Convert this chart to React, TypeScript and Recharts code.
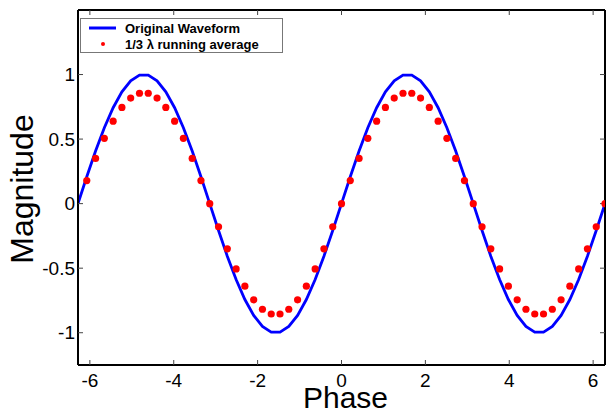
import {
  ComposedChart,
  Legend,
  Line,
  XAxis,
  YAxis,
} from 'recharts'

// Phase samples, step of pi/15 from -2pi to 2pi.
const phase = [
  -6.283, -6.074, -5.864, -5.655, -5.445, -5.236, -5.027, -4.817, -4.608, -4.398,
  -4.189, -3.979, -3.77, -3.56, -3.351, -3.142, -2.932, -2.723, -2.513, -2.304,
  -2.094, -1.885, -1.676, -1.466, -1.257, -1.047, -0.838, -0.628, -0.419, -0.209,
  0,
  0.209, 0.419, 0.628, 0.838, 1.047, 1.257, 1.466, 1.676, 1.885, 2.094,
  2.304, 2.513, 2.723, 2.932, 3.142, 3.351, 3.56, 3.77, 3.979, 4.189,
  4.398, 4.608, 4.817, 5.027, 5.236, 5.445, 5.655, 5.864, 6.074, 6.283,
]

// Original waveform (blue line).
const waveform = [
  0, 0.208, 0.407, 0.588, 0.743, 0.866, 0.951, 0.995, 0.995, 0.951,
  0.866, 0.743, 0.588, 0.407, 0.208, 0, -0.208, -0.407, -0.588, -0.743,
  -0.866, -0.951, -0.995, -0.995, -0.951, -0.866, -0.743, -0.588, -0.407, -0.208,
  0,
  0.208, 0.407, 0.588, 0.743, 0.866, 0.951, 0.995, 0.995, 0.951, 0.866,
  0.743, 0.588, 0.407, 0.208, 0, -0.208, -0.407, -0.588, -0.743, -0.866,
  -0.951, -0.995, -0.995, -0.951, -0.866, -0.743, -0.588, -0.407, -0.208, 0,
]

// 1/3 lambda running average (red dots), first sample missing.
const runningAverage: (number | null)[] = [
  null, 0.179, 0.35, 0.506, 0.639, 0.745, 0.818, 0.855, 0.855, 0.818,
  0.745, 0.639, 0.506, 0.35, 0.179, 0, -0.179, -0.35, -0.506, -0.639,
  -0.745, -0.818, -0.855, -0.855, -0.818, -0.745, -0.639, -0.506, -0.35, -0.179,
  0,
  0.179, 0.35, 0.506, 0.639, 0.745, 0.818, 0.855, 0.855, 0.818, 0.745,
  0.639, 0.506, 0.35, 0.179, 0, -0.179, -0.35, -0.506, -0.639, -0.745,
  -0.818, -0.855, -0.855, -0.818, -0.745, -0.639, -0.506, -0.35, -0.179, 0,
]

const xTicks = [-6, -4, -2, 0, 2, 4, 6]
const yTicks = [-1, -0.5, 0, 0.5, 1]
const xDomain = [-6.283, 6.283]
const yDomain = [-1.25, 1.5]

const data = phase.map((p, i) => ({ phase: p, wave: waveform[i], avg: runningAverage[i] }))

const BLUE = '#0000ff'
const RED = '#ff0000'
const FONT = '"Liberation Sans", Arial, sans-serif'
const axisLineStyle = { stroke: '#000', strokeWidth: 2 }
const tickLineStyle = { stroke: '#444', strokeWidth: 1 }
const tickText = { fontSize: 19, fill: '#000', fontFamily: FONT }

// Legend box with line and dot samples, line entry first.
function renderLegend(props: any) {
  const payload = (props.payload || [])
    .filter((entry: any) => entry.type !== 'none')
    .sort((a: any, b: any) => (a.type === 'line' ? -1 : b.type === 'line' ? 1 : 0))
  return (
    <div
      style={{
        width: 201,
        height: 32,
        border: '1px solid #777',
        background: '#fff',
        fontFamily: FONT,
        fontSize: 13,
        fontWeight: 'bold',
        color: '#000',
        paddingTop: 1,
        textAlign: 'left',
      }}
    >
      {payload.map((entry: any) => (
        <div
          key={entry.value}
          style={{ height: 16, display: 'flex', alignItems: 'center', whiteSpace: 'nowrap' }}
        >
          <svg width={44} height={16} style={{ flex: 'none' }}>
            {entry.type === 'line' ? (
              <line x1={8} x2={35} y1={8} y2={8} stroke={BLUE} strokeWidth={3} />
            ) : (
              <circle cx={22} cy={8} r={2} fill={RED} />
            )}
          </svg>
          <span>{entry.value}</span>
        </div>
      ))}
    </div>
  )
}

function YLabel(props: any) {
  const vb = props.viewBox || { x: 0, y: 10, width: 78, height: 355 }
  const x = vb.x + 33
  const y = vb.y + vb.height / 2 + 1.5
  return (
    <text
      x={x}
      y={y}
      transform={`rotate(-90, ${x}, ${y})`}
      textAnchor="middle"
      fontSize={32}
      fontFamily={FONT}
      fill="#000"
    >
      Magnitude
    </text>
  )
}

function XLabel(props: any) {
  const vb = props.viewBox || { x: 78, y: 365, width: 527, height: 48 }
  return (
    <text
      x={vb.x + vb.width / 2 + 4}
      y={vb.y + 43}
      textAnchor="middle"
      fontSize={30}
      fontFamily={FONT}
      fill="#000"
    >
      Phase
    </text>
  )
}

export default function App() {
  return (
    <div style={{ position: 'absolute', left: 0, top: 0, width: 613, height: 413, background: '#fff' }}>
      <ComposedChart width={613} height={413} data={data} margin={{ top: 9, right: 7, bottom: 0, left: 0 }}>
        <XAxis
          dataKey="phase"
          type="number"
          domain={xDomain}
          ticks={xTicks}
          allowDataOverflow
          height={48}
          axisLine={axisLineStyle}
          tickLine={tickLineStyle}
          tickSize={-5}
          tickMargin={14}
          tick={tickText}
          label={<XLabel />}
        />
        <XAxis
          xAxisId="top"
          orientation="top"
          dataKey="phase"
          type="number"
          domain={xDomain}
          ticks={xTicks}
          allowDataOverflow
          height={1}
          axisLine={axisLineStyle}
          tickLine={tickLineStyle}
          tickSize={-5}
          tickFormatter={() => ''}
        />
        <YAxis
          type="number"
          domain={yDomain}
          ticks={yTicks}
          allowDataOverflow
          width={78}
          axisLine={axisLineStyle}
          tickLine={tickLineStyle}
          tickSize={-5}
          tickMargin={8}
          tick={tickText}
          label={<YLabel />}
        />
        <YAxis
          yAxisId="right"
          orientation="right"
          type="number"
          domain={yDomain}
          ticks={yTicks}
          allowDataOverflow
          width={1}
          axisLine={axisLineStyle}
          tickLine={tickLineStyle}
          tickSize={-5}
          tickFormatter={() => ''}
        />
        <Legend
          layout="horizontal"
          verticalAlign="middle"
          align="center"
          content={renderLegend}
          wrapperStyle={{ left: 80, top: 18, width: 203, height: 34 }}
        />
        <Line
          dataKey="wave"
          name="Original Waveform"
          type="linear"
          stroke={BLUE}
          strokeWidth={2.8}
          dot={false}
          legendType="line"
          isAnimationActive={false}
        />
        <Line
          dataKey="avg"
          name="1/3 λ running average"
          type="linear"
          stroke="none"
          dot={{ r: 3.6, fill: RED, stroke: 'none' }}
          activeDot={false}
          legendType="circle"
          isAnimationActive={false}
        />
        {/* hidden series so the frame axes get drawn */}
        <Line
          xAxisId="top"
          yAxisId="right"
          dataKey="wave"
          stroke="none"
          dot={false}
          activeDot={false}
          legendType="none"
          isAnimationActive={false}
        />
      </ComposedChart>
    </div>
  )
}
